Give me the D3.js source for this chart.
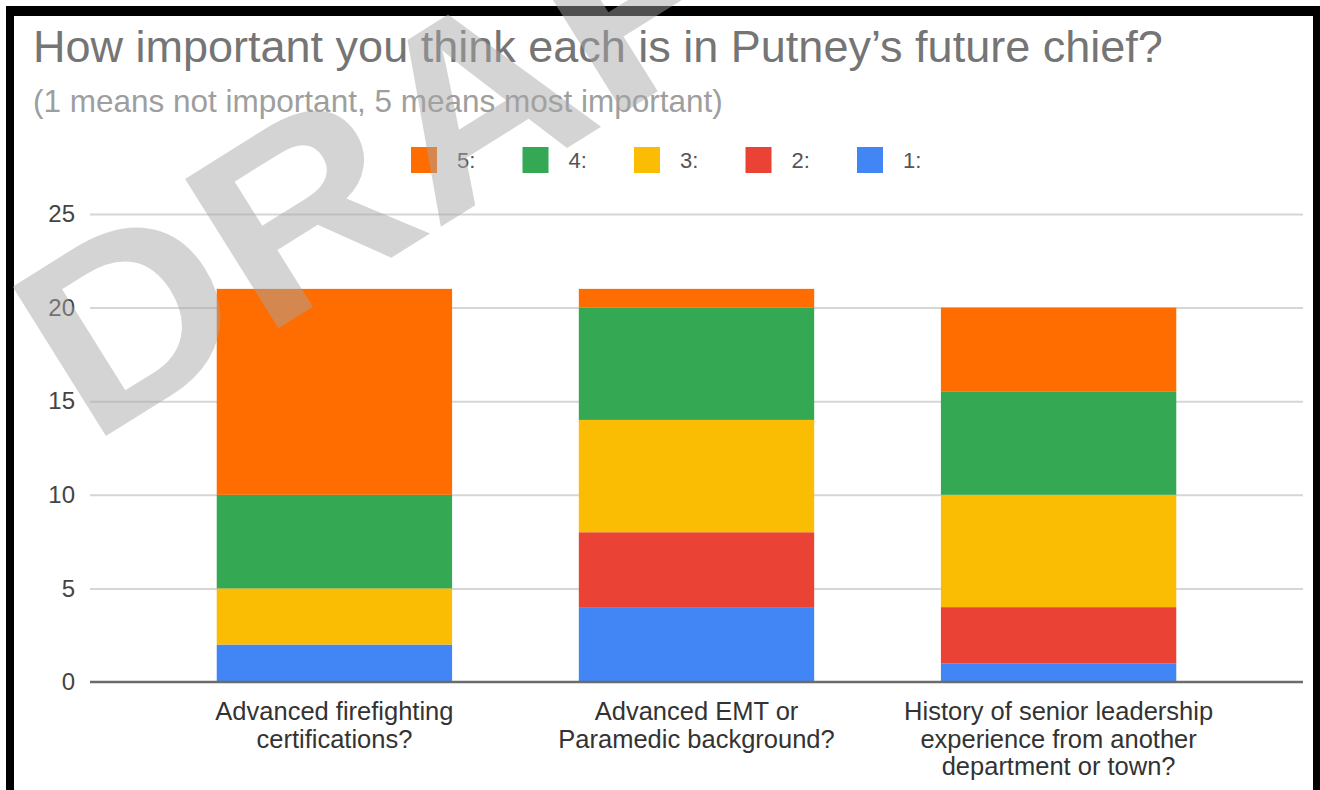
<!DOCTYPE html>
<html>
<head>
<meta charset="utf-8">
<script src="https://cdn.jsdelivr.net/npm/d3@7"></script>
<style>
  html, body { margin: 0; padding: 0; background: #ffffff; }
  svg { display: block; }
  text { font-family: "Liberation Sans", Arial, sans-serif; }
</style>
</head>
<body>
<svg id="chart" width="1320" height="790"></svg>
<script>
// ---------------- data ----------------
const title = "How important you think each is in Putney\u2019s future chief?";
const subtitle = "(1 means not important, 5 means most important)";
const categories = [
  "Advanced firefighting certifications?",
  "Advanced EMT or Paramedic background?",
  "History of senior leadership experience from another department or town?"
];
const categoryLines = [
  ["Advanced firefighting", "certifications?"],
  ["Advanced EMT or", "Paramedic background?"],
  ["History of senior leadership", "experience from another", "department or town?"]
];
const seriesKeys = ["1", "2", "3", "4", "5"];      // stacked bottom -> top
const rating1 = [2, 4, 1];
const rating2 = [0, 4, 3];
const rating3 = [3, 6, 6];
const rating4 = [5, 6, 5.5];
const rating5 = [11, 1, 4.5];
const legendOrder = ["5", "4", "3", "2", "1"];
const seriesColors = ["#4285f4", "#ea4335", "#fbbc04", "#34a853", "#ff6d01"];
const yTicks = [0, 5, 10, 15, 20, 25];
const watermarkText = "DRAFT";

// ---------------- build table ----------------
const seriesValues = [rating1, rating2, rating3, rating4, rating5];
const table = categories.map((c, i) => {
  const row = { category: c };
  seriesKeys.forEach((k, j) => { row[k] = seriesValues[j][i]; });
  return row;
});

const svg = d3.select("#chart");
const W = 1320, H = 790;
const plot = { left: 90, right: 1303, top: 214, bottom: 682 };

svg.append("rect").attr("width", W).attr("height", H).attr("fill", "#ffffff");

const x = d3.scaleBand()
  .domain(categories)
  .range([plot.left, plot.right])
  .paddingInner(0.35)
  .paddingOuter(0.35);

const y = d3.scaleLinear()
  .domain([0, 25])
  .range([plot.bottom, plot.top]);

const color = d3.scaleOrdinal().domain(seriesKeys).range(seriesColors);

// title & subtitle
svg.append("text")
  .attr("x", 33).attr("y", 62)
  .attr("font-size", 45)
  .attr("fill", "#757575")
  .text(title);

svg.append("text")
  .attr("x", 33).attr("y", 112)
  .attr("font-size", 31.5)
  .attr("fill", "#9e9e9e")
  .text(subtitle);

// gridlines + y axis labels
const yAxis = d3.axisLeft(y)
  .tickValues(yTicks)
  .tickSize(-(plot.right - plot.left))
  .tickPadding(15);

const gy = svg.append("g")
  .attr("transform", `translate(${plot.left},0)`)
  .call(yAxis);
gy.select(".domain").remove();
gy.selectAll(".tick line")
  .attr("stroke", d => d === 0 ? "none" : "#d6d6d6")
  .attr("stroke-width", 2);
gy.selectAll(".tick text")
  .attr("font-size", 24)
  .attr("fill", "#444444")
  .attr("font-family", "Liberation Sans, Arial, sans-serif");

// stacked bars
const stacked = d3.stack().keys(seriesKeys)(table);
svg.append("g")
  .selectAll("g")
  .data(stacked)
  .join("g")
  .attr("fill", d => color(d.key))
  .selectAll("rect")
  .data(d => d)
  .join("rect")
  .attr("x", d => x(d.data.category))
  .attr("width", x.bandwidth())
  .attr("y", d => y(d[1]))
  .attr("height", d => y(d[0]) - y(d[1]));

// zero baseline
svg.append("line")
  .attr("x1", plot.left).attr("x2", plot.right)
  .attr("y1", y(0)).attr("y2", y(0))
  .attr("stroke", "#6b6b6b")
  .attr("stroke-width", 2.5);

// x axis labels
const xAxis = d3.axisBottom(x).tickSize(0).tickFormat(() => "");
const gx = svg.append("g")
  .attr("transform", `translate(0,${y(0)})`)
  .call(xAxis);
gx.select(".domain").remove();
gx.selectAll(".tick text").remove();
gx.selectAll(".tick")
  .append("text")
  .attr("text-anchor", "middle")
  .attr("font-size", 25.5)
  .attr("fill", "#333333")
  .attr("font-family", "Liberation Sans, Arial, sans-serif")
  .each(function (d) {
    const lines = categoryLines[categories.indexOf(d)];
    const t = d3.select(this);
    lines.forEach((ln, i) => {
      t.append("tspan").attr("x", 0).attr("y", 38 + i * 27.5).text(ln);
    });
  });

// legend
const legend = svg.append("g").attr("transform", "translate(411,147)");
const item = legend.selectAll("g")
  .data(legendOrder)
  .join("g")
  .attr("transform", (d, i) => `translate(${i * 111.5},0)`);
item.append("rect")
  .attr("width", 26).attr("height", 26)
  .attr("fill", d => color(d));
item.append("text")
  .attr("x", 46).attr("y", 21)
  .attr("font-size", 22)
  .attr("fill", "#555555")
  .text(d => d + ":");

// frame (black border of screenshot)
svg.append("path")
  .attr("d", "M6,6 H1320 V790 H1313 V16 H14 V790 H6 Z")
  .attr("fill", "#000000");

// watermark
svg.append("text")
  .attr("transform", "translate(90,446) rotate(-32) scale(1.1,1)")
  .attr("font-size", 256)
  .attr("font-weight", "bold")
  .attr("fill", "rgba(165,165,165,0.48)")
  .text(watermarkText);
</script>
</body>
</html>
